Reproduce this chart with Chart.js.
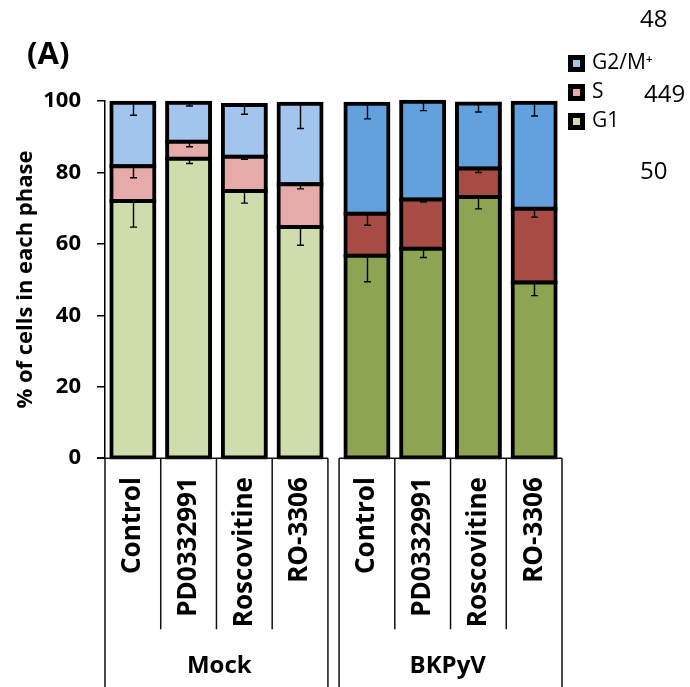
<!DOCTYPE html>
<html lang="en">
<head>
<meta charset="UTF-8">
<title>cell cycle phases</title>
<style>
  html, body { margin: 0; padding: 0; background: #fff; }
</style>
</head>
<body>
<canvas id="phaseChart" width="690" height="687"></canvas>

<script src="https://cdn.jsdelivr.net/npm/chart.js"></script>
<script>
// treatments, repeated for each infection group
var treatments = ['Control', 'PD0332991', 'Roscovitine', 'RO-3306'];
var groups = ['Mock', 'BKPyV'];

// % of cells, Mock x4 then BKPyV x4
var g1Values = [72.0, 83.8, 74.8, 64.7, 56.7, 58.6, 73.1, 49.2];
var sValues  = [9.7, 4.8, 9.6, 12.0, 11.7, 13.8, 8.0, 20.6];
var g2Values = [17.8, 10.9, 14.5, 22.5, 30.8, 27.4, 18.2, 29.7];

// error bars (drawn downward only)
var g1Err = [7.3, 1.3, 3.4, 5.1, 7.3, 2.4, 3.3, 3.7];
var sErr  = [3.2, 1.4, 0.7, 1.3, 3.2, 0.7, 1.1, 2.3];
var g2Err = [3.5, 0.9, 2.6, 6.9, 4.2, 2.5, 2.4, 3.7];

var yTicks = [0, 20, 40, 60, 80, 100];

var FONT = "'Open Sans', 'DejaVu Sans', sans-serif";
var GROUP_GAP = 0.2;   // extra space between Mock and BKPyV, in bar slots

var labels = [];
var xPos = [];
groups.forEach(function(g, gi) {
    treatments.forEach(function(t, ti) {
        labels.push(t);
        xPos.push(gi * (treatments.length + GROUP_GAP) + ti);
    });
});

function toPoints(values) {
    return values.map(function(v, i) { return {x: xPos[i], y: v}; });
}

// light colours for Mock, dark for BKPyV
function twoTone(light, dark) {
    return labels.map(function(l, i) { return i < treatments.length ? light : dark; });
}

var datasets = [
    { label: 'G1', data: toPoints(g1Values), err: g1Err, backgroundColor: twoTone('#CFDDAD', '#8DA452') },
    { label: 'S', data: toPoints(sValues), err: sErr, backgroundColor: twoTone('#E6AAA8', '#A84B45') },
    { label: 'G2/M\u207A', data: toPoints(g2Values), err: g2Err, backgroundColor: twoTone('#A3C4EC', '#62A0DE') }
];
datasets.forEach(function(d) {
    d.borderColor = '#000';
    d.borderWidth = 4;
    d.inflateAmount = 2;
    d.borderSkipped = false;
    d.barThickness = 43;
    d.clip = false;
});

// error bars on top of each segment
var errorBars = {
    id: 'errorBars',
    afterDatasetsDraw: function(chart) {
        var ctx = chart.ctx;
        var y = chart.scales.y;
        ctx.save();
        ctx.strokeStyle = '#000';
        ctx.lineWidth = 1.4;
        chart.data.datasets.forEach(function(ds, i) {
            var meta = chart.getDatasetMeta(i);
            meta.data.forEach(function(bar, j) {
                var len = y.getPixelForValue(0) - y.getPixelForValue(ds.err[j]);
                var x = Math.round(bar.x) + 0.5;
                ctx.beginPath();
                ctx.moveTo(x, bar.y);
                ctx.lineTo(x, bar.y + len);
                ctx.moveTo(x - 3.5, bar.y + len);
                ctx.lineTo(x + 3.5, bar.y + len);
                ctx.stroke();
            });
        });
        ctx.restore();
    }
};

// boxed category table under the bars, legend, panel letter
var decorations = {
    id: 'decorations',
    afterDraw: function(chart) {
        var ctx = chart.ctx;
        var xs = chart.scales.x;
        var area = chart.chartArea;
        var bottom = chart.height;
        var cellBottom = xs.bottom - xs.options.ticks.padding + 2;
        ctx.save();
        ctx.strokeStyle = '#111';
        ctx.lineWidth = 1.5;
        groups.forEach(function(g, gi) {
            var first = xPos[gi * treatments.length];
            var left = xs.getPixelForValue(first - 0.5);
            var right = xs.getPixelForValue(first + treatments.length - 0.5);
            ctx.beginPath();
            ctx.moveTo(gi === 0 ? area.left - 8 : left, area.bottom);
            ctx.lineTo(right, area.bottom);
            ctx.moveTo(left, area.bottom);
            ctx.lineTo(left, bottom);
            ctx.moveTo(right, area.bottom);
            ctx.lineTo(right, bottom);
            for (var k = 1; k < treatments.length; k++) {
                var px = xs.getPixelForValue(first + k - 0.5);
                ctx.moveTo(px, area.bottom);
                ctx.lineTo(px, cellBottom);
            }
            ctx.stroke();
        });

        // legend, top series first
        var items = chart.data.datasets.slice().reverse();
        ctx.textBaseline = 'middle';
        ctx.textAlign = 'left';
        ctx.font = '21px ' + FONT;
        items.forEach(function(ds, i) {
            var top = 55 + i * 29;
            ctx.fillStyle = '#000';
            ctx.fillRect(568, top, 17, 17);
            ctx.fillStyle = ds.backgroundColor[0];
            ctx.fillRect(573, top + 5, 7, 7);
            ctx.fillStyle = '#000';
            ctx.fillText(ds.label, 592, top + 8);
        });

        ctx.font = 'bold 31px ' + FONT;
        ctx.fillText('(A)', 27, 55);

        ctx.font = '24px ' + FONT;
        ctx.fillText('48', 640, 20);
        ctx.fillText('449', 644, 95);
        ctx.fillText('50', 640, 172);
        ctx.restore();
    }
};

var ctx = document.getElementById('phaseChart');
var phaseChart = new Chart(ctx.getContext('2d'), {
    type: 'bar',
    data: { datasets: datasets },
    options: {
        responsive: false,
        animation: false,
        layout: {
            padding: { top: 101, left: 0, right: 128, bottom: 0 }
        },
        scales: {
            x: {
                type: 'linear',
                stacked: true,
                offset: false,
                min: -0.5,
                max: xPos[xPos.length - 1] + 0.5,
                afterBuildTicks: function(scale) {
                    scale.ticks = xPos.map(function(v) { return {value: v}; });
                },
                ticks: {
                    autoSkip: false,
                    minRotation: 90,
                    maxRotation: 90,
                    padding: 19,
                    color: '#000',
                    font: { family: FONT, size: 26, weight: 'bold' },
                    callback: function(value, index) { return labels[index]; }
                },
                grid: { display: false, drawTicks: false },
                border: { display: false }
            },
            x2: {
                type: 'category',
                labels: groups,
                position: 'bottom',
                weight: 1,
                offset: true,
                ticks: {
                    padding: 6,
                    color: '#000',
                    font: { family: FONT, size: 24, weight: 'bold' }
                },
                grid: { display: false, drawTicks: false },
                border: { display: false }
            },
            y: {
                stacked: true,
                min: 0,
                max: 100,
                afterBuildTicks: function(scale) {
                    scale.ticks = yTicks.map(function(v) { return {value: v}; });
                },
                afterFit: function(scale) {
                    scale.width = 105;
                },
                ticks: {
                    padding: 16,
                    color: '#000',
                    font: { family: FONT, size: 22, weight: 'bold' }
                },
                grid: {
                    drawOnChartArea: false,
                    tickLength: 8,
                    color: '#000',
                    lineWidth: 1.5
                },
                border: { display: true, color: '#000', width: 1.5 },
                title: {
                    display: true,
                    text: '% of cells in each phase',
                    color: '#000',
                    padding: { top: 13, bottom: 0 },
                    font: { family: FONT, size: 22, weight: 'bold' }
                }
            }
        },
        plugins: {
            legend: { display: false },
            title: { display: false },
            tooltip: { enabled: false }
        }
    },
    plugins: [errorBars, decorations]
});
</script>
</body>
</html>
